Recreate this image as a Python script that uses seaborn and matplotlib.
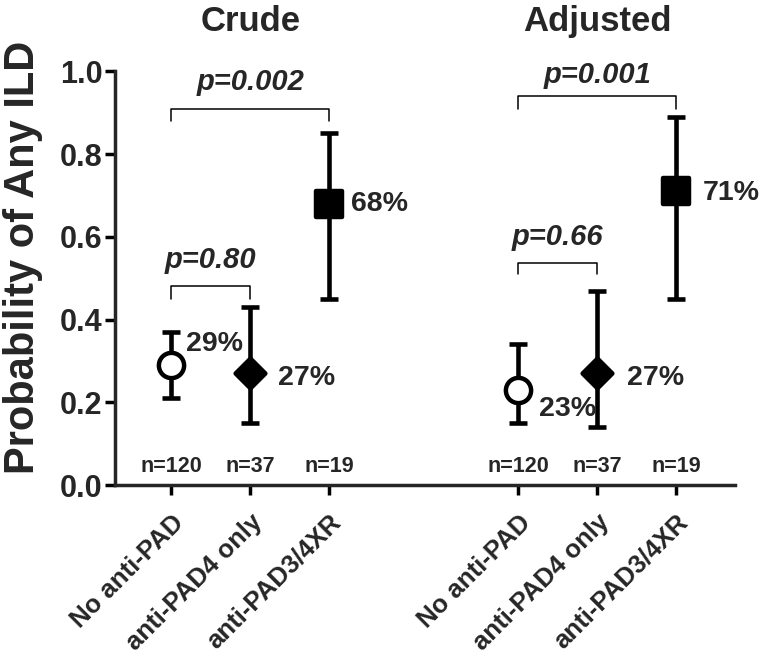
import numpy as np
import pandas as pd
import matplotlib
matplotlib.use("Agg")
import matplotlib.pyplot as plt
import seaborn as sns

# data
groups = ["No anti-PAD", "anti-PAD4 only", "anti-PAD3/4XR"]
n_labels = ["n=120", "n=37", "n=19"]
crude_prob = [0.29, 0.27, 0.68]
crude_low = [0.21, 0.15, 0.45]
crude_high = [0.37, 0.43, 0.85]
adj_prob = [0.23, 0.27, 0.71]
adj_low = [0.15, 0.14, 0.45]
adj_high = [0.34, 0.47, 0.89]
crude_p = ["p=0.80", "p=0.002"]
adj_p = ["p=0.66", "p=0.001"]
panel_titles = ["Crude", "Adjusted"]

sns.set_style("ticks")
plt.rcParams["font.family"] = ["Liberation Sans", "DejaVu Sans"]
plt.rcParams["font.weight"] = "bold"

fig = plt.figure(figsize=(7.62, 6.6), dpi=100)
ax = fig.add_axes([0.151, 0.265, 0.814, 0.627])

pos_crude = np.array([0.0, 1.0, 2.0])
pos_adj = pos_crude + 4.4

df = pd.DataFrame({
    "x": np.concatenate([pos_crude, pos_adj]),
    "prob": crude_prob + adj_prob,
    "low": crude_low + adj_low,
    "high": crude_high + adj_high,
    "group": groups * 2,
})

# error bars
ax.errorbar(df["x"], df["prob"],
            yerr=[df["prob"] - df["low"], df["high"] - df["prob"]],
            fmt="none", ecolor="black", elinewidth=3.3, capsize=6.5, capthick=3.3,
            zorder=2)

# markers
sizes = {"No anti-PAD": 330, "anti-PAD4 only": 230, "anti-PAD3/4XR": 360}
marks = {"No anti-PAD": "o", "anti-PAD4 only": "D", "anti-PAD3/4XR": "s"}
fills = {"No anti-PAD": "white", "anti-PAD4 only": "black", "anti-PAD3/4XR": "black"}
for g in groups:
    sub = df[df["group"] == g]
    sns.scatterplot(data=sub, x="x", y="prob", marker=marks[g], s=sizes[g],
                    color=fills[g], edgecolor="black", linewidth=3.2,
                    zorder=3, ax=ax, legend=False)

# percent labels (offsets from the point)
offs = [(0.18, 0.05), (0.35, -0.01), (0.28, 0.0),
        (0.26, -0.045), (0.38, -0.01), (0.34, -0.005)]
for (x, p), (dx, dy) in zip(zip(df["x"], df["prob"]), offs):
    ax.text(x + dx, p + dy, f"{round(p * 100):d}%", ha="left", va="center",
            fontsize=20.5, fontweight="bold")

# n labels
for x, t in zip(df["x"], n_labels * 2):
    ax.text(x, 0.045, t, ha="center", va="center", fontsize=15.5, fontweight="bold")

# significance brackets
def bracket(x1, x2, y, h, label, ty):
    ax.plot([x1, x1, x2, x2], [y - h, y, y, y - h], color="black", lw=1.1,
            clip_on=False)
    ax.text((x1 + x2) / 2, ty, label, ha="center", va="center", fontsize=21,
            fontweight="bold", fontstyle="italic", clip_on=False)

bracket(pos_crude[0], pos_crude[1], 0.48, 0.03, crude_p[0], 0.545)
bracket(pos_crude[0], pos_crude[2], 0.91, 0.03, crude_p[1], 0.975)
bracket(pos_adj[0], pos_adj[1], 0.537, 0.027, adj_p[0], 0.60)
bracket(pos_adj[0], pos_adj[2], 0.94, 0.03, adj_p[1], 0.99)

# panel titles
for x, t in zip([pos_crude[1], pos_adj[1]], panel_titles):
    ax.text(x, 1.12, t, ha="center", va="center", fontsize=25,
            fontweight="bold", clip_on=False)

ax.set_xlim(-0.713, 7.15)
ax.set_ylim(0, 1.0)
ax.set_yticks([0.0, 0.2, 0.4, 0.6, 0.8, 1.0])
ax.set_yticklabels(["0.0", "0.2", "0.4", "0.6", "0.8", "1.0"], fontsize=22,
                   fontweight="bold")
ax.set_xticks(df["x"])
ax.set_xticklabels(groups * 2, rotation=45, ha="right", va="top",
                   rotation_mode="anchor", fontsize=18.5, fontweight="bold")
ax.set_xlabel("")
ax.set_ylabel("Probability of Any ILD", fontsize=30, fontweight="bold")
ax.yaxis.set_label_coords(-0.116, 0.55)

sns.despine(ax=ax)
for s in ["left", "bottom"]:
    ax.spines[s].set_linewidth(2.5)
ax.tick_params(axis="both", width=2.5, length=7, color="black", pad=2)
ax.tick_params(axis="x", pad=11)

fig.savefig("out.png", dpi=100)
